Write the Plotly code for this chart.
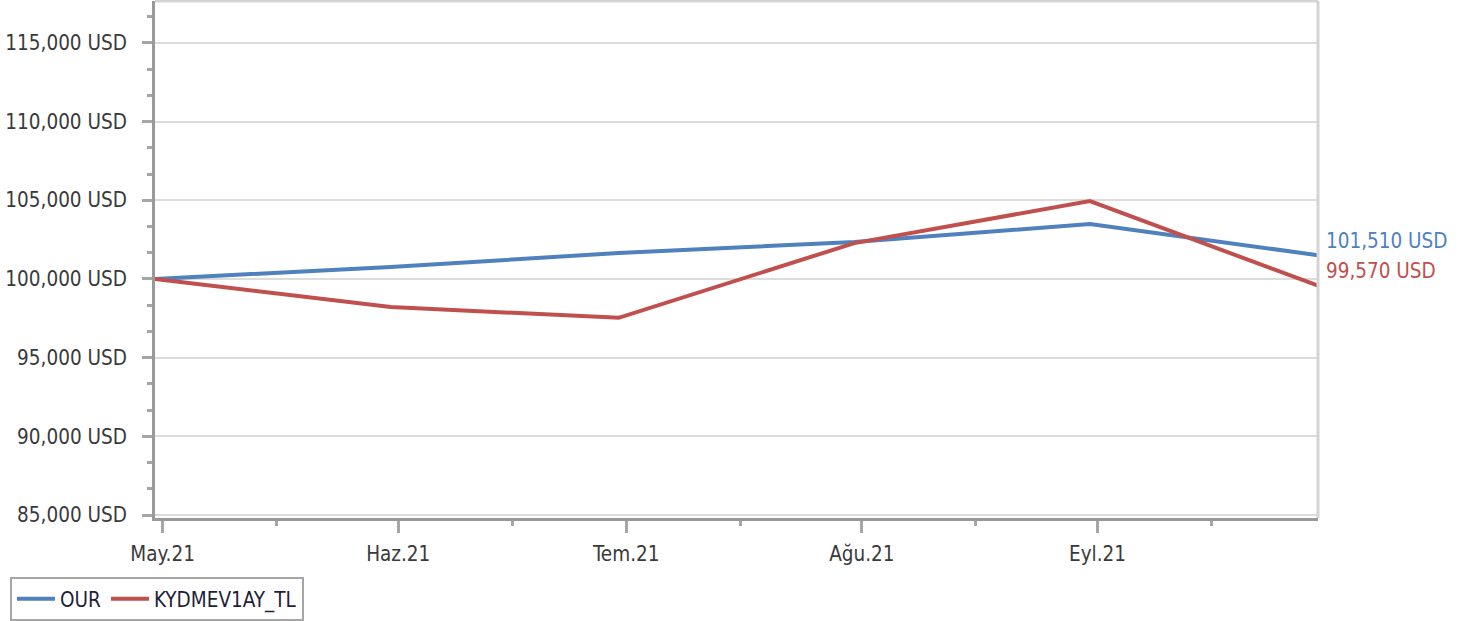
import plotly.graph_objects as go

dates = ["2021-04-30", "2021-05-31", "2021-06-30", "2021-07-31", "2021-08-31", "2021-09-30"]
our_values = [100000, 100760, 101650, 102350, 103490, 101510]
kyd_values = [100000, 98220, 97530, 102280, 104950, 99570]
series_names = ["OUR", "KYDMEV1AY_TL"]
end_labels = ["101,510 USD", "99,570 USD"]
tick_dates = ["2021-05-01", "2021-06-01", "2021-07-01", "2021-08-01", "2021-09-01"]
tick_labels = ["May.21", "Haz.21", "Tem.21", "Ağu.21", "Eyl.21"]
minor_tick_dates = ["2021-05-16", "2021-06-16", "2021-07-16", "2021-08-16", "2021-09-16"]

BLUE = "#4f81bd"
RED = "#c0504d"
FONT = "DejaVu Sans Condensed, DejaVu Sans"
FS = 20.5

fig = go.Figure()
fig.add_trace(go.Scatter(x=dates, y=our_values, mode="lines", name=series_names[0],
                         line=dict(color=BLUE, width=4)))
fig.add_trace(go.Scatter(x=dates, y=kyd_values, mode="lines", name=series_names[1],
                         line=dict(color=RED, width=4)))

fig.add_annotation(x=dates[-1], y=our_values[-1], text=end_labels[0], showarrow=False,
                   xanchor="left", yanchor="middle", xshift=6, yshift=14,
                   font=dict(family=FONT, size=FS, color=BLUE))
fig.add_annotation(x=dates[-1], y=kyd_values[-1], text=end_labels[1], showarrow=False,
                   xanchor="left", yanchor="middle", xshift=6, yshift=15,
                   font=dict(family=FONT, size=FS, color=RED))

# right and top borders
fig.add_shape(type="line", xref="paper", yref="paper", x0=1, x1=1, y0=0, y1=1,
              line=dict(color="#d4d4d4", width=3))
fig.add_shape(type="line", xref="paper", yref="paper", x0=0, x1=1, y0=1, y1=1,
              line=dict(color="#d4d4d4", width=3))

fig.update_layout(
    width=1471, height=621,
    margin=dict(l=155, r=153, t=1, b=102),
    paper_bgcolor="white", plot_bgcolor="white",
    font=dict(family=FONT, size=FS, color="#3a3a3a"),
    showlegend=True,
    legend=dict(orientation="h", x=-0.1247, y=-0.112, xanchor="left", yanchor="top",
                bordercolor="#a6a6a6", borderwidth=2, bgcolor="white",
                font=dict(family=FONT, size=FS, color="#1f1f3a"),
                itemwidth=38, tracegroupgap=0),
)

fig.update_xaxes(
    type="date",
    range=["2021-04-30", "2021-09-30"],
    tickmode="array", tickvals=tick_dates, ticktext=tick_labels,
    ticks="outside", ticklen=12, tickwidth=3, tickcolor="#a6a6a6",
    minor=dict(tickmode="array", tickvals=minor_tick_dates, ticks="outside",
               ticklen=5, tickwidth=3, tickcolor="#a6a6a6", showgrid=False),
    showgrid=False,
    showline=True, linecolor="#999999", linewidth=3,
    zeroline=False,
    tickfont=dict(family=FONT, size=FS, color="#3a3a3a"),
    ticklabelstandoff=3,
)

fig.update_yaxes(
    range=[84810, 117664],
    tick0=85000, dtick=5000,
    tickformat=",d", ticksuffix=" USD",
    ticks="outside", ticklen=10, tickwidth=3, tickcolor="#a6a6a6",
    minor=dict(tick0=85000, dtick=5000 / 3, ticks="outside", ticklen=5,
               tickwidth=3, tickcolor="#a6a6a6", showgrid=False),
    showgrid=True, gridcolor="#dcdcdc", gridwidth=2,
    showline=True, linecolor="#999999", linewidth=3,
    zeroline=False,
    tickfont=dict(family=FONT, size=FS, color="#3a3a3a"),
    ticklabelstandoff=11,
)

fig.write_html("out.html", config={"displayModeBar": False},
               post_script="document.body.style.margin='0px';")
